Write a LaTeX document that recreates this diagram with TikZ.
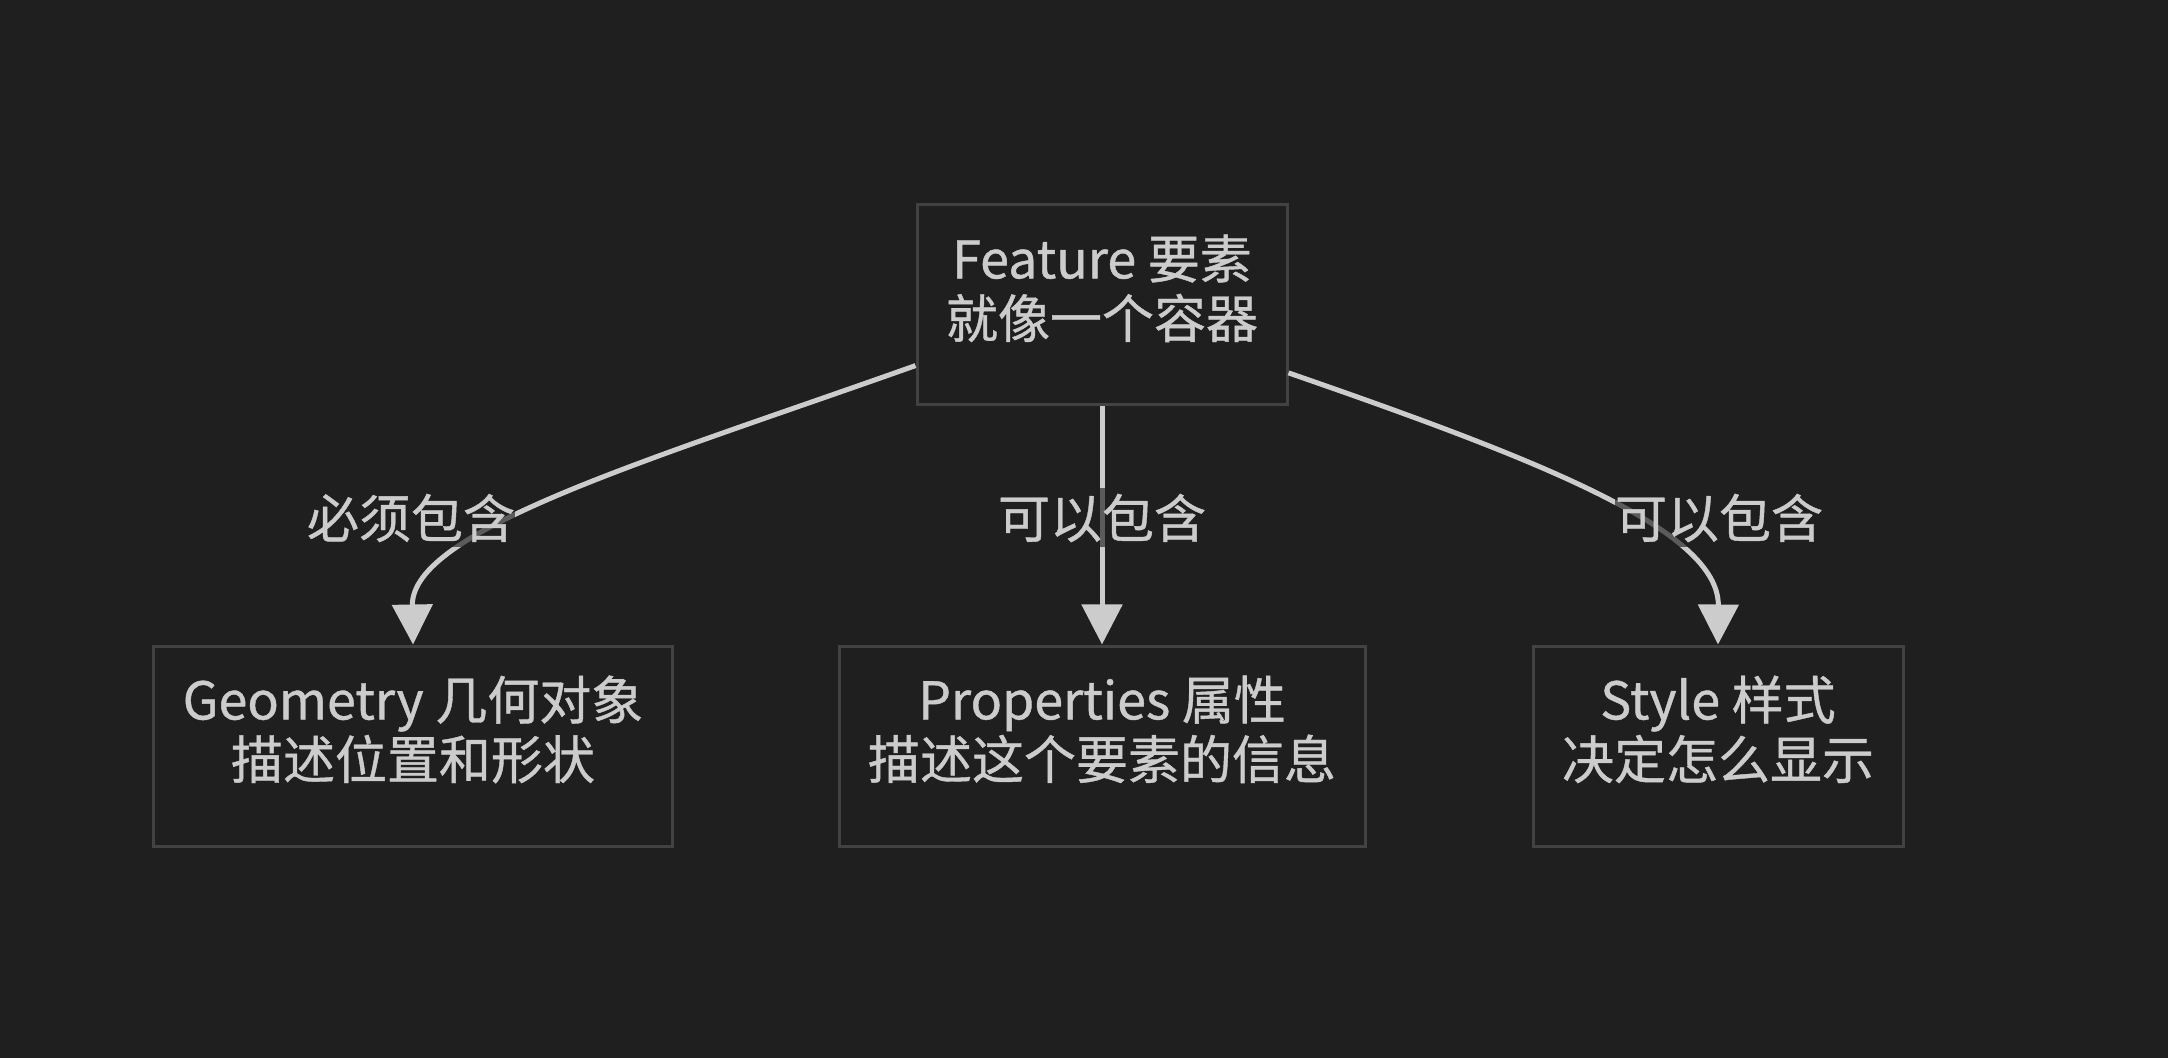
\documentclass[tikz,border=0pt]{standalone}
\usepackage{fontspec}
\setmainfont[FakeBold=0.8,AutoFakeBold=0]{Noto Sans CJK SC}
\usepackage{xcolor}
\usetikzlibrary{arrows.meta}
\definecolor{bgdark}{HTML}{1F1F1F}
\definecolor{edgegray}{HTML}{CCCCCC}
\definecolor{framegray}{HTML}{424242}

\begin{document}
\begin{tikzpicture}[x=0.5pt,y=-0.5pt,
  every node/.style={font=\fontsize{26pt}{29.75pt}\selectfont,text=edgegray},
  box/.style={draw=framegray,line width=1.5pt,fill=bgdark,align=center,minimum height=100pt,inner xsep=14.5pt},
  link/.style={draw=edgegray,line width=2.5pt,-{Triangle[length=20pt,width=20pt]}},
  tag/.style={fill=bgdark,fill opacity=0.65,text opacity=1,inner xsep=0pt,inner ysep=0pt,minimum height=29.5pt}]
\fill[bgdark] (0,0) rectangle (2168,1058);
\useasboundingbox (0,0) rectangle (2168,1058);
\node[box] (feat) at (1102,305) {Feature 要素\\就像一个容器\\[-11pt]{}};
\node[box] (geo) at (413,746) {Geometry 几何对象\\描述位置和形状\\[-11pt]{}};
\node[box] (prop) at (1102,746) {Properties 属性\\描述这个要素的信息\\[-11pt]{}};
\node[box] (sty) at (1718,746) {Style 样式\\决定怎么显示\\[-11pt]{}};
\draw[link] (feat.198) .. controls (650,460) and (411,530) .. (geo.north);
\draw[link] (feat.south) -- (prop.north);
\draw[link] (feat.340) .. controls (1540,460) and (1719,530) .. (sty.north);
\node[tag] (must) at (411,518) {必须包含};
\node[tag] (maymid) at (1102,518) {可以包含};
\node[tag] (mayright) at (1719,518) {可以包含};
\end{tikzpicture}
\end{document}
